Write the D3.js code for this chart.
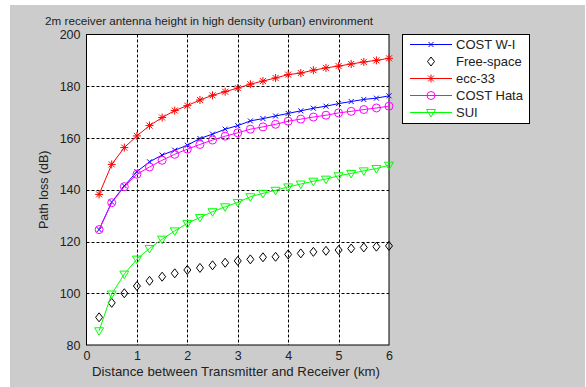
<!DOCTYPE html>
<html>
<head>
<meta charset="utf-8">
<script src="https://cdn.jsdelivr.net/npm/d3@7"></script>
<style>
  body { margin: 0; background: #fff; }
  text { font-family: Arial, "Liberation Sans", sans-serif; fill: #222; }
</style>
</head>
<body>
<div id="chart"></div>
<script>
const distance = [0.25, 0.5, 0.75, 1, 1.25, 1.5, 1.75, 2, 2.25, 2.5, 2.75, 3,
    3.25, 3.5, 3.75, 4, 4.25, 4.5, 4.75, 5, 5.25, 5.5, 5.75, 6];
const costWI = [124.6, 135.2, 141.5, 147, 150.8, 153.4, 155.3, 157.2, 159.8, 161.5, 163.4, 164.8,
    166.6, 167.5, 168.5, 169.5, 170.5, 171.5, 172.3, 173.3, 174.1, 174.9, 175.4, 176.3];
const freeSpace = [90.7, 96.3, 100, 102.8, 104.8, 106.4, 107.7, 109, 109.8, 110.8, 111.8, 112.5,
    113.1, 113.9, 114.1, 115, 115.4, 116, 116.4, 116.7, 117.3, 117.7, 118, 118.3];
const ecc33 = [138.2, 149.8, 156.3, 160.8, 164.8, 167.9, 170.6, 172.5, 174.7, 176.5, 177.9, 179.3,
    180.8, 182, 183.2, 184.5, 185.1, 186.2, 187.1, 187.8, 188.6, 189.4, 190, 190.8];
const costHata = [124.6, 135, 141.2, 146, 148.8, 151.4, 153.7, 155.7, 157.5, 159.2, 160.7, 162,
    163.4, 164.3, 165.3, 166.5, 167.3, 168.1, 168.8, 169.7, 170.3, 171, 171.6, 172.3];
const sui = [85.5, 99.7, 107.4, 113.2, 117.3, 120.9, 124.1, 127, 129.3, 131.5, 133.4, 135.1,
    137.3, 138.6, 139.8, 141.1, 142.2, 143.3, 144.1, 145.4, 146.3, 147.3, 148.2, 149.5];
const xTicks = [0, 1, 2, 3, 4, 5, 6];
const yTicks = [80, 100, 120, 140, 160, 180, 200];

const series = [
    { name: "COST W-I", values: costWI, color: "#0000ff", marker: "x", line: true },
    { name: "Free-space", values: freeSpace, color: "#000000", marker: "diamond", line: false },
    { name: "ecc-33", values: ecc33, color: "#ff0000", marker: "star", line: true },
    { name: "COST Hata", values: costHata, color: "#ff00ff", marker: "circle", line: true },
    { name: "SUI", values: sui, color: "#00ff00", marker: "triangle", line: true }
];

const W = 586, H = 387;
const svg = d3.select("#chart").append("svg")
    .attr("width", W)
    .attr("height", H);

// figure background
svg.append("rect")
    .attr("x", 10).attr("y", 5)
    .attr("width", W - 11).attr("height", H - 5)
    .attr("fill", "#cccccc");

const plotLeft = 86.5, plotRight = 389, plotTop = 34.5, plotBottom = 345;

const x = d3.scaleLinear().domain([0, 6]).range([plotLeft, plotRight]);
const y = d3.scaleLinear().domain([80, 200]).range([plotBottom, plotTop]);

svg.append("rect")
    .attr("x", plotLeft).attr("y", plotTop)
    .attr("width", plotRight - plotLeft).attr("height", plotBottom - plotTop)
    .attr("fill", "#fff");

// grid
const grid = svg.append("g")
    .attr("stroke", "#000")
    .attr("stroke-width", 1)
    .attr("stroke-dasharray", "3,2");
grid.selectAll(".gx")
    .data(xTicks.slice(1, -1))
    .enter().append("line")
    .attr("x1", d => Math.round(x(d)) + 0.5).attr("x2", d => Math.round(x(d)) + 0.5)
    .attr("y1", plotTop).attr("y2", plotBottom);
grid.selectAll(".gy")
    .data(yTicks.slice(1, -1))
    .enter().append("line")
    .attr("y1", d => Math.round(y(d)) + 0.5).attr("y2", d => Math.round(y(d)) + 0.5)
    .attr("x1", plotLeft).attr("x2", plotRight);

// axes
const xAxis = svg.append("g")
    .attr("transform", "translate(0," + plotBottom + ")")
    .call(d3.axisBottom(x).tickValues(xTicks).tickSize(0).tickPadding(6).tickFormat(d3.format("d")));
const yAxis = svg.append("g")
    .attr("transform", "translate(" + plotLeft + ",0)")
    .call(d3.axisLeft(y).tickValues(yTicks).tickSize(0).tickPadding(6).tickFormat(d3.format("d")));
[xAxis, yAxis].forEach(a => {
    a.select(".domain").remove();
    a.selectAll("text")
        .style("font-size", "12.5px")
        .style("font-family", "Arial, 'Liberation Sans', sans-serif")
        .attr("fill", "#222");
});

svg.append("rect")
    .attr("x", plotLeft).attr("y", plotTop)
    .attr("width", plotRight - plotLeft).attr("height", plotBottom - plotTop)
    .attr("fill", "none")
    .attr("stroke", "#000");

// marker drawing
function drawMarker(g, type, color) {
    if (type === "x") {
        g.append("path").attr("d", "M-2.5,-2.5L2.5,2.5M-2.5,2.5L2.5,-2.5")
            .attr("stroke", color).attr("fill", "none");
    } else if (type === "diamond") {
        g.append("path").attr("d", "M0,-4.5L3.5,0L0,4.5L-3.5,0Z")
            .attr("stroke", color).attr("fill", "none");
    } else if (type === "star") {
        g.append("path").attr("d", "M-4,0L4,0M0,-4L0,4M-3,-3L3,3M-3,3L3,-3")
            .attr("stroke", color).attr("fill", "none");
    } else if (type === "circle") {
        g.append("circle").attr("r", 4)
            .attr("stroke", color).attr("fill", "none");
    } else if (type === "triangle") {
        g.append("path").attr("d", "M-4.5,-3L4.5,-3L0,4.5Z")
            .attr("stroke", color).attr("fill", "none");
    }
}

const line = d3.line()
    .x((d, i) => x(distance[i]))
    .y(d => y(d));

series.forEach(s => {
    if (s.line) {
        svg.append("path")
            .datum(s.values)
            .attr("d", line)
            .attr("fill", "none")
            .attr("stroke", s.color)
            .attr("stroke-width", 1);
    }
    svg.selectAll(null)
        .data(s.values)
        .enter().append("g")
        .attr("transform", (d, i) => "translate(" + x(distance[i]) + "," + y(d) + ")")
        .each(function () { drawMarker(d3.select(this), s.marker, s.color); });
});

// title and labels
svg.append("text")
    .attr("x", 45).attr("y", 25)
    .style("font-size", "11.7px")
    .text("2m receiver antenna height in high density (urban) environment");

svg.append("text")
    .attr("x", 92).attr("y", 376)
    .style("font-size", "13.2px")
    .attr("textLength", 288)
    .text("Distance between Transmitter and Receiver (km)");

svg.append("text")
    .attr("transform", "translate(48," + (plotTop + plotBottom) / 2 + ") rotate(-90)")
    .attr("text-anchor", "middle")
    .style("font-size", "12.5px")
    .text("Path loss (dB)");

// legend
const legend = svg.append("g");
legend.append("rect")
    .attr("x", 402.5).attr("y", 34.5)
    .attr("width", 127).attr("height", 89)
    .attr("fill", "#fff")
    .attr("stroke", "#000");

const items = legend.selectAll(".legend-item")
    .data(series)
    .enter().append("g")
    .attr("class", "legend-item")
    .attr("transform", (d, i) => "translate(0," + (44.5 + i * 17) + ")");

items.filter(d => d.line).append("line")
    .attr("x1", 410).attr("x2", 452)
    .attr("stroke", d => d.color);
items.append("g")
    .attr("transform", "translate(431,0)")
    .each(function (d) { drawMarker(d3.select(this), d.marker, d.color); });
items.append("text")
    .attr("x", 456).attr("dy", "0.36em")
    .style("font-size", "13px")
    .text(d => d.name);
</script>
</body>
</html>
